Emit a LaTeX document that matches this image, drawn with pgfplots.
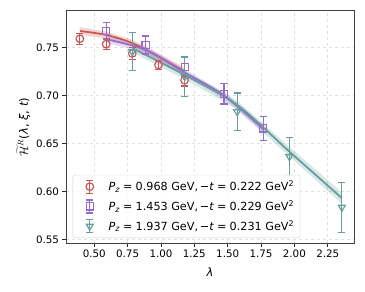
\documentclass[border=0pt]{standalone}
\usepackage{fontspec}
\setmainfont{DejaVu Sans}
\usepackage{pgfplots}
\pgfplotsset{compat=1.18}
\definecolor{cred}{RGB}{200,88,86}
\definecolor{cpur}{RGB}{150,108,204}
\definecolor{cteal}{RGB}{102,158,158}
\newcommand{\legimg}[2]{%
  \path (0bp,0bp) (28.5bp,0bp);
  \draw[#1,line width=1.2bp] (12.3bp,-6.5bp)--(12.3bp,6.5bp) (8.6bp,-6.5bp)--(16bp,-6.5bp) (8.6bp,6.5bp)--(16bp,6.5bp);
  \draw[#1,line width=1.2bp,#2] plot coordinates {(12.3bp,0)};}
\newcommand{\eq}{\;=\;}
\begin{document}
\begin{tikzpicture}
\useasboundingbox (-66bp,-48.7bp) rectangle (299bp,243.3bp);
\begin{axis}[
  at={(0,0)}, anchor=south west,
  width=288bp, height=232.6bp, scale only axis,
  xmin=0.288, xmax=2.447, ymin=0.5458, ymax=0.7886,
  xtick={0.5,0.75,1,1.25,1.5,1.75,2,2.25},
  ytick={0.55,0.6,0.65,0.7,0.75},
  xticklabel style={/pgf/number format/.cd,fixed,fixed zerofill,precision=2},
  yticklabel style={/pgf/number format/.cd,fixed,fixed zerofill,precision=2},
  /pgf/number format/assume math mode=true,
  tick label style={font=\fontsize{10.3bp}{12bp}\selectfont},
  label style={font=\fontsize{11.5bp}{13bp}\selectfont},
  xtick pos=bottom, ytick pos=left, tick align=outside,
  major tick length=3.5bp,
  tick style={black!85,line width=0.8bp},
  axis line style={black!75,line width=0.8bp},
  grid=major,
  major grid style={dashed,black!12,line width=0.6bp},
  xlabel={\textit{λ}},
  ylabel={$\widetilde{\mathcal{H}}^{R}$(\textit{λ}, \textit{ξ}, \textit{t})},
  xlabel style={yshift=-3bp},
  ylabel style={yshift=-1bp},
  legend style={at={(6.7bp,5.3bp)},anchor=south west,
    font=\fontsize{11.2bp}{13bp}\selectfont,draw=black!20,rounded corners=2.5bp,
    fill=white,fill opacity=0.85,text opacity=1,row sep=4.5bp,inner xsep=4bp,inner ysep=4bp},
  legend cell align=left,
  error bars/error bar style={line width=1.2bp},
  error bars/error mark options={line width=1.2bp,mark size=3.6bp,rotate=90},
]
% bands
\addplot[fill=cred,fill opacity=0.25,draw=none,forget plot] coordinates {
(0.392,0.7714)(0.589,0.7668)(0.785,0.7583)(0.981,0.7443)(1.177,0.7292)
(1.177,0.7212)(0.981,0.7373)(0.785,0.7513)(0.589,0.7598)(0.392,0.7634)} -- cycle;
\addplot[fill=cpur,fill opacity=0.25,draw=none,forget plot] coordinates {
(0.589,0.7623)(0.884,0.7513)(1.178,0.7275)(1.473,0.7035)(1.767,0.6690)
(1.767,0.6610)(1.473,0.6965)(1.178,0.7205)(0.884,0.7443)(0.589,0.7553)} -- cycle;
\addplot[fill=cteal,fill opacity=0.25,draw=none,forget plot] coordinates {
(0.785,0.7540)(1.178,0.7260)(1.571,0.6948)(1.963,0.6465)(2.356,0.5990)
(2.356,0.5870)(1.963,0.6365)(1.571,0.6858)(1.178,0.7170)(0.785,0.7450)} -- cycle;
% central lines
\addplot[cred,line width=1.8bp,smooth,forget plot] coordinates {
(0.392,0.7674)(0.589,0.7633)(0.785,0.7548)(0.981,0.7408)(1.177,0.7252)};
\addplot[cpur,line width=1.8bp,smooth,forget plot] coordinates {
(0.589,0.7588)(0.884,0.7478)(1.178,0.7240)(1.473,0.7000)(1.767,0.6650)};
\addplot[cteal,line width=1.8bp,smooth,forget plot] coordinates {
(0.785,0.7495)(1.178,0.7215)(1.571,0.6903)(1.963,0.6415)(2.356,0.5930)};
% data points
\addplot[cred,only marks,mark=o,mark size=3.8bp,line width=1.2bp,
  error bars/.cd,y dir=both,y explicit,
  /pgfplots/legend image code/.code={\legimg{cred}{mark=o,mark size=3.8bp}}]
  coordinates {
  (0.392,0.7593) +- (0,0.0058)
  (0.589,0.7537) +- (0,0.0053)
  (0.785,0.7440) +- (0,0.0060)
  (0.981,0.7320) +- (0,0.0050)
  (1.177,0.7160) +- (0,0.0060)};
\addlegendentry{\textit{P}\textsubscript{\textit{z}}\eq 0.968 GeV,\,−\textit{t}\eq 0.222 GeV\textsuperscript{2}}
\addplot[cpur,only marks,mark=square,mark size=3.6bp,line width=1.2bp,
  error bars/.cd,y dir=both,y explicit,
  /pgfplots/legend image code/.code={\legimg{cpur}{mark=square,mark size=3.6bp}}]
  coordinates {
  (0.589,0.7674) +- (0,0.0092)
  (0.884,0.7528) +- (0,0.0093)
  (1.178,0.7300) +- (0,0.0096)
  (1.473,0.7017) +- (0,0.0105)
  (1.767,0.6658) +- (0,0.0125)};
\addlegendentry{\textit{P}\textsubscript{\textit{z}}\eq 1.453 GeV,\,−\textit{t}\eq 0.229 GeV\textsuperscript{2}}
\addplot[cteal,only marks,mark=triangle,mark options={rotate=180},mark size=4bp,line width=1.2bp,
  error bars/.cd,y dir=both,y explicit,
  /pgfplots/legend image code/.code={\legimg{cteal}{mark=triangle,mark options={rotate=180},mark size=4bp}}]
  coordinates {
  (0.785,0.7458) +- (0,0.0197)
  (1.178,0.7197) +- (0,0.0205)
  (1.571,0.6832) +- (0,0.0195)
  (1.963,0.6362) +- (0,0.0197)
  (2.356,0.5834) +- (0,0.0261)};
\addlegendentry{\textit{P}\textsubscript{\textit{z}}\eq 1.937 GeV,\,−\textit{t}\eq 0.231 GeV\textsuperscript{2}}
\end{axis}
\end{tikzpicture}
\end{document}
